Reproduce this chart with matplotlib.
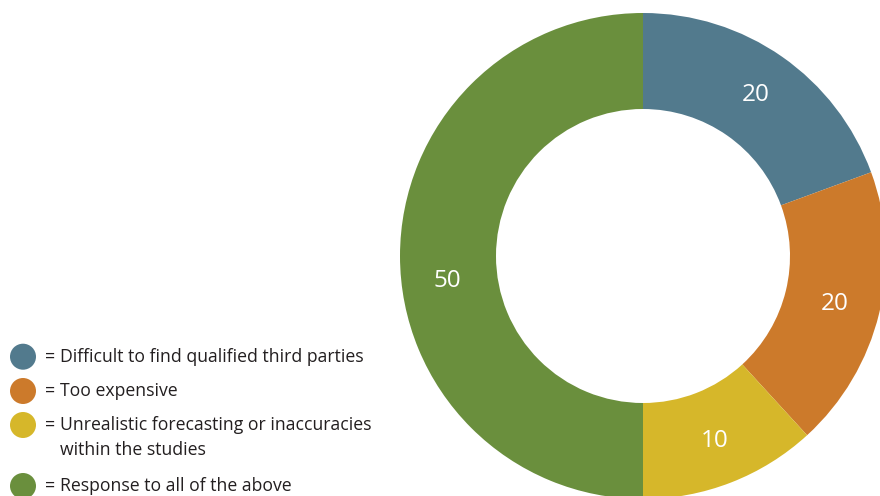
import matplotlib
matplotlib.use("Agg")
import matplotlib.pyplot as plt
import numpy as np

# ---- data ----
categories = [
    "Difficult to find qualified third parties",
    "Too expensive",
    "Unrealistic forecasting or inaccuracies\nwithin the studies",
    "Response to all of the above",
]
value_labels = ["20", "20", "10", "50"]
slice_shares = [19.4, 18.8, 11.8, 50.0]   # shares as drawn in the picture
colors = ["#527A8D", "#CC7A2B", "#D6B72A", "#6A8F3D"]

plt.rcParams['font.family'] = ['Open Sans', 'DejaVu Sans']

W, H = 880, 496
fig = plt.figure(figsize=(W / 100, H / 100), dpi=100)
ax = fig.add_axes([0, 0, 1, 1])

cx, cy = 643, H - 256
r_out, r_in = 243, 147

wedges, _ = ax.pie(slice_shares, colors=colors, startangle=90, counterclock=False,
                   center=(cx, cy), radius=r_out,
                   wedgeprops=dict(width=r_out - r_in, linewidth=0))

# labels in ring
r_lab = (r_out + r_in) / 2 + 2
angle_override = {3: 187}
for i, w in enumerate(wedges):
    ang = (w.theta1 + w.theta2) / 2
    ang = angle_override.get(i, ang)
    x = cx + r_lab * np.cos(np.deg2rad(ang))
    y = cy + r_lab * np.sin(np.deg2rad(ang))
    ax.text(x, y - 1, value_labels[i], color="white", fontsize=17.5,
            ha="center", va="center")

# legend
leg_y = [356.7, 391, 425, 486]
for i, (lab, yy) in enumerate(zip(categories, leg_y)):
    yd = H - yy
    ax.add_patch(plt.Circle((23, yd), 13, color=colors[i], linewidth=0))
    ax.text(45, yd, "=", fontsize=12.7, va="center", ha="left", color="#231F20")
    lines = lab.split("\n")
    ax.text(60, yd, lines[0], fontsize=12.7, va="center", ha="left", color="#231F20")
    for k, extra in enumerate(lines[1:], start=1):
        ax.text(60, yd - 25 * k, extra, fontsize=12.7, va="center", ha="left", color="#231F20")

ax.set_xlim(0, W)
ax.set_ylim(0, H)
ax.set_aspect("equal")
ax.axis("off")

fig.savefig("out.png", dpi=100)
